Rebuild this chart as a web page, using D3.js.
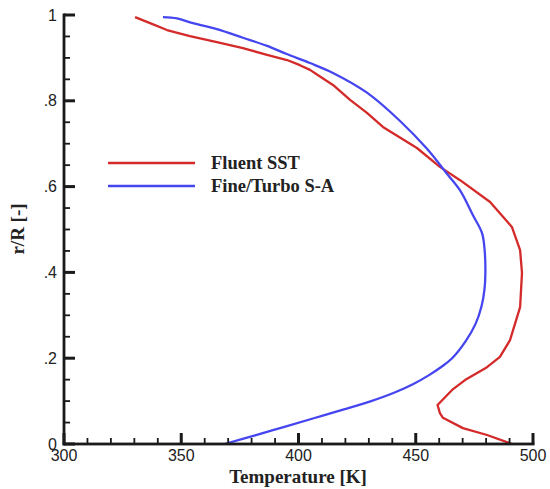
<!DOCTYPE html>
<html>
<head>
<meta charset="utf-8">
<script src="https://cdn.jsdelivr.net/npm/d3@7"></script>
<style>
  body { margin: 0; background: #fff; }
  svg { display: block; }
  .tick-label { font-family: "Liberation Sans", Arial, sans-serif; font-size: 16px; fill: #222; }
  .title { font-family: "Liberation Serif", "Times New Roman", serif; font-weight: bold; font-size: 19px; fill: #222; }
  .legend-label { font-family: "Liberation Serif", "Times New Roman", serif; font-weight: bold; font-size: 18.5px; fill: #222; }
</style>
</head>
<body>
<svg width="550" height="489"></svg>
<script>
// Data (temperature in K, radius r/R)
const sstTemp = [330.3, 336.7, 343.9, 353.7, 365.2, 376.3, 386.6, 395.1, 400.6, 404.9, 407.7, 414.7, 422, 429.2, 436, 450.5, 460.3, 468.9, 481.7, 491, 494.5, 495.3, 494.5, 490.2, 485.9, 480.4, 471, 465.5, 459.3, 460.3, 461.6, 470.1, 480.4, 491];
const sstR = [0.995, 0.981, 0.965, 0.951, 0.937, 0.923, 0.907, 0.895, 0.883, 0.872, 0.862, 0.837, 0.802, 0.772, 0.739, 0.69, 0.646, 0.615, 0.564, 0.506, 0.452, 0.399, 0.319, 0.242, 0.203, 0.179, 0.149, 0.126, 0.091, 0.072, 0.061, 0.037, 0.021, 0.0];

const saTemp = [342.2, 348.2, 355, 365.2, 376.3, 386.6, 395, 404.9, 414.7, 429.2, 443.3, 454.8, 463.3, 468.9, 474.4, 478.3, 479.4, 479.7, 479.3, 478, 475.5, 471.3, 465.5, 461, 455.5, 449, 441, 431, 419, 406.5, 394, 381.5, 368.5];
const saR = [0.995, 0.992, 0.981, 0.967, 0.947, 0.928, 0.909, 0.888, 0.865, 0.819, 0.753, 0.688, 0.63, 0.591, 0.533, 0.491, 0.45, 0.4, 0.36, 0.32, 0.28, 0.24, 0.2, 0.18, 0.16, 0.14, 0.12, 0.1, 0.08, 0.06, 0.04, 0.02, 0];

const seriesNames = ["Fluent SST", "Fine/Turbo S-A"];
const seriesColors = ["#d42a2a", "#4646f0"];

const xTicks = [300, 350, 400, 450, 500];
const xMinorTicks = [310, 320, 330, 340, 360, 370, 380, 390, 410, 420, 430, 440, 460, 470, 480, 490];
const yTicks = [0, 0.2, 0.4, 0.6, 0.8, 1];
const yMinorTicks = [0.05, 0.1, 0.15, 0.25, 0.3, 0.35, 0.45, 0.5, 0.55, 0.65, 0.7, 0.75, 0.85, 0.9, 0.95];
const yTickLabels = ["0", ".2", ".4", ".6", ".8", "1"];

const svg = d3.select("svg");

const x = d3.scaleLinear().domain([300, 500]).range([64, 533]);
const y = d3.scaleLinear().domain([0, 1]).range([444, 15]);

const axisColor = "#1a1a1a";

// Curves
svg.append("path")
  .datum(d3.zip(sstTemp, sstR))
  .attr("fill", "none")
  .attr("stroke", seriesColors[0])
  .attr("stroke-width", 2.3)
  .attr("stroke-linejoin", "round")
  .attr("d", d3.line().x((d) => x(d[0])).y((d) => y(d[1])));

svg.append("path")
  .datum(d3.zip(saTemp, saR))
  .attr("fill", "none")
  .attr("stroke", seriesColors[1])
  .attr("stroke-width", 2.3)
  .attr("d", d3.line().x((d) => x(d[0])).y((d) => y(d[1])).curve(d3.curveCatmullRom));

// Tick marks as small filled rects, pointing into the plot
function xTickRects(values, len, w) {
  svg.append("g")
    .selectAll("rect")
    .data(values)
    .enter()
    .append("rect")
    .attr("x", (d) => x(d) - w / 2)
    .attr("y", y(0) - len)
    .attr("width", w)
    .attr("height", len)
    .attr("fill", axisColor);
}
function yTickRects(values, len, w) {
  svg.append("g")
    .selectAll("rect")
    .data(values)
    .enter()
    .append("rect")
    .attr("x", x(300))
    .attr("y", (d) => y(d) - w / 2)
    .attr("width", len)
    .attr("height", w)
    .attr("fill", axisColor);
}
xTickRects(xMinorTicks, 6, 1.8);
xTickRects(xTicks, 11, 3);
yTickRects(yMinorTicks, 6, 1.8);
yTickRects(yTicks, 11, 3);

// Axis lines (left and bottom only)
svg.append("rect")
  .attr("x", x(300) - 1.4).attr("y", y(1) - 1.5)
  .attr("width", 2.8).attr("height", y(0) - y(1) + 2.9)
  .attr("fill", axisColor);
svg.append("rect")
  .attr("x", x(300) - 1.4).attr("y", y(0) - 1.4)
  .attr("width", x(500) - x(300) + 2.9).attr("height", 2.8)
  .attr("fill", axisColor);

// Tick labels
svg.append("g")
  .selectAll("text")
  .data(xTicks)
  .enter()
  .append("text")
  .attr("class", "tick-label")
  .attr("x", (d) => x(d))
  .attr("y", y(0) + 17)
  .attr("text-anchor", "middle")
  .text((d) => d);

svg.append("g")
  .selectAll("text")
  .data(yTicks)
  .enter()
  .append("text")
  .attr("class", "tick-label")
  .attr("x", x(300) - 7)
  .attr("y", (d) => y(d))
  .attr("dy", "0.35em")
  .attr("text-anchor", "end")
  .text((d, i) => yTickLabels[i]);

// Legend
const legend = svg.append("g").attr("transform", "translate(108,163)");
seriesNames.forEach((name, i) => {
  legend.append("line")
    .attr("x1", 0).attr("x2", 87)
    .attr("y1", i * 23).attr("y2", i * 23)
    .attr("stroke", seriesColors[i])
    .attr("stroke-width", 2.3);
  legend.append("text")
    .attr("class", "legend-label")
    .attr("x", 103)
    .attr("y", i * 23 + 6)
    .text(name);
});

// Axis titles
svg.append("text")
  .attr("class", "title")
  .attr("x", 298)
  .attr("y", 483)
  .attr("text-anchor", "middle")
  .text("Temperature [K]");

svg.append("text")
  .attr("class", "title")
  .attr("transform", "translate(24,229) rotate(-90)")
  .attr("text-anchor", "middle")
  .text("r/R [-]");
</script>
</body>
</html>
